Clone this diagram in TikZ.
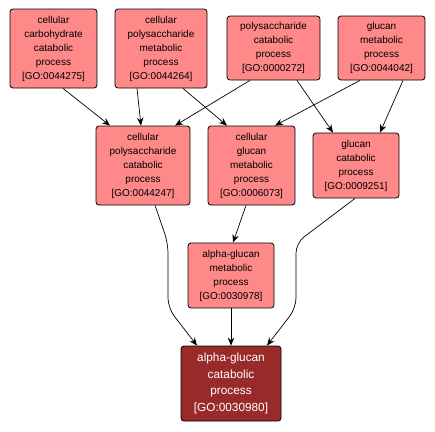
\documentclass[tikz,border=0pt]{standalone}
\usepackage{fontspec}
\setmainfont{Liberation Sans}
\usetikzlibrary{arrows.meta}
\definecolor{golight}{RGB}{255,136,136}
\definecolor{godark}{RGB}{153,42,42}
\begin{document}
\begin{tikzpicture}[x=1pt,y=-1pt,
  term/.style={draw=black,line width=0.8pt,fill=golight,rounded corners=3pt,
    inner sep=0pt,align=center,font=\fontsize{10}{14}\selectfont},
  focus/.style={term,fill=godark,text=white,font=\fontsize{11.8}{16.5}\selectfont},
  isa/.style={-{Stealth[length=8pt,width=6.5pt]},line width=0.7pt}]
\useasboundingbox (0,0) rectangle (435,431);
% top row
\node[term,minimum width=87pt,minimum height=79pt] (t44275) at (53.5,48.5)
  {cellular\\carbohydrate\\catabolic\\process\\{[}GO:0044275{]}};
\node[term,minimum width=92pt,minimum height=79pt] (t44264) at (161,48.5)
  {cellular\\polysaccharide\\metabolic\\process\\{[}GO:0044264{]}};
\node[term,minimum width=93pt,minimum height=64pt] (t272) at (273.5,48)
  {polysaccharide\\catabolic\\process\\{[}GO:0000272{]}};
\node[term,minimum width=87pt,minimum height=64pt] (t44042) at (381.5,48)
  {glucan\\metabolic\\process\\{[}GO:0044042{]}};
% middle row
\node[term,minimum width=94pt,minimum height=79pt] (t44247) at (143,165.5)
  {cellular\\polysaccharide\\catabolic\\process\\{[}GO:0044247{]}};
\node[term,minimum width=87pt,minimum height=79pt] (t6073) at (251.5,165.5)
  {cellular\\glucan\\metabolic\\process\\{[}GO:0006073{]}};
\node[term,minimum width=86pt,minimum height=65pt] (t9251) at (356,165.5)
  {glucan\\catabolic\\process\\{[}GO:0009251{]}};
\node[term,minimum width=86pt,minimum height=65pt] (t30978) at (231,275.5)
  {alpha-glucan\\metabolic\\process\\{[}GO:0030978{]}};
\node[focus,minimum width=100pt,minimum height=75pt] (t30980) at (231,383.5)
  {alpha-glucan\\catabolic\\process\\{[}GO:0030980{]}};
% is_a edges
\draw[isa] ([xshift=9.5pt]t44275.south) -- ([xshift=-33pt]t44247.north);
\draw[isa] ([xshift=-24pt]t44264.south) -- ([xshift=-2pt]t44247.north);
\draw[isa] ([xshift=22pt]t44264.south) -- ([xshift=-24.5pt]t6073.north);
\draw[isa] ([xshift=-23.5pt]t272.south) -- ([xshift=32pt]t44247.north);
\draw[isa] ([xshift=23.5pt]t272.south) -- ([xshift=-23pt]t9251.north);
\draw[isa] ([xshift=-21.5pt]t44042.south) -- ([xshift=23.5pt]t6073.north);
\draw[isa] ([xshift=21.5pt]t44042.south) -- ([xshift=24pt]t9251.north);
\draw[isa] ([xshift=-5.5pt]t6073.south) -- ([xshift=2pt]t30978.north);
\draw[isa] (t30978) -- (t30980);
\draw[isa,rounded corners=10pt] ([xshift=12pt]t44247.south) -- (168,243) -- (168,308)
  -- ([xshift=-34pt]t30980.north);
\draw[isa,rounded corners=10pt] ([xshift=-1pt]t9251.south) -- (296,243) -- (296,308)
  -- ([xshift=36pt]t30980.north);
\end{tikzpicture}
\end{document}
